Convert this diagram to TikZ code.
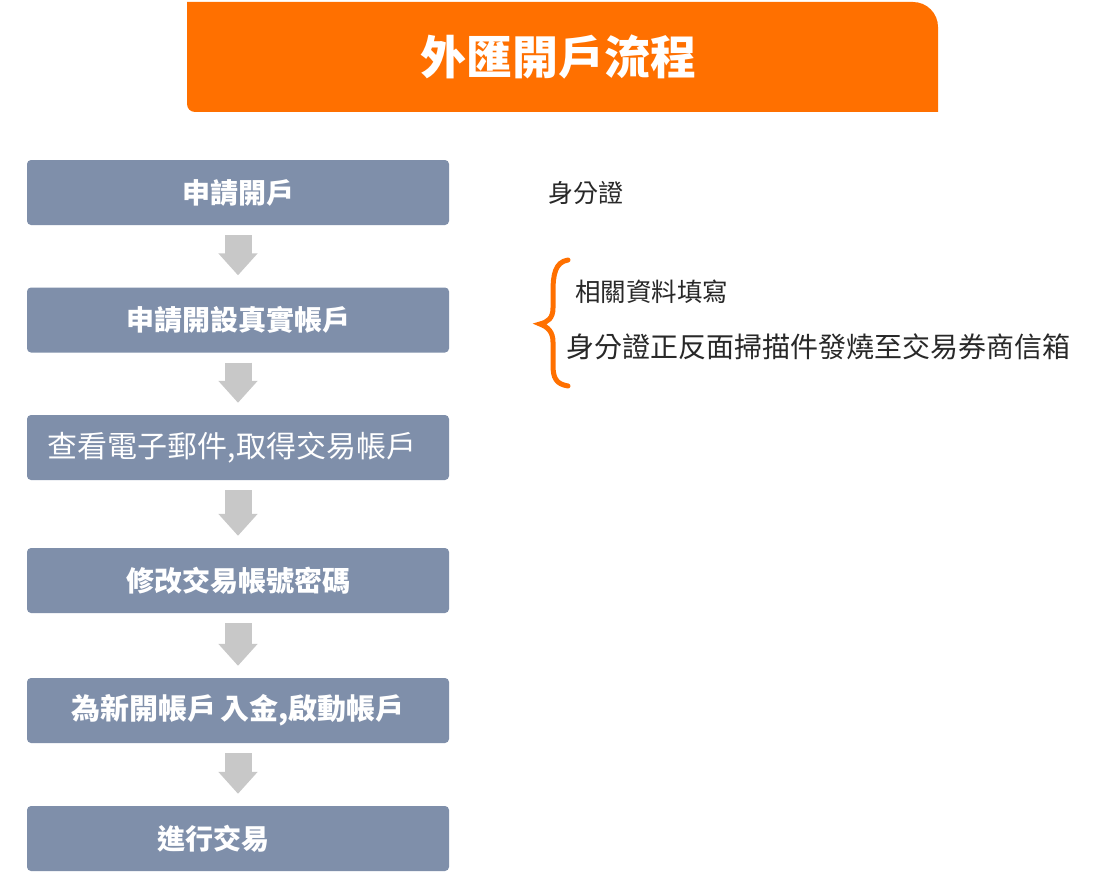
\documentclass[tikz,border=0pt]{standalone}
\usepackage{fontspec}
\newfontfamily\cjk{Noto Sans CJK TC}
\usetikzlibrary{arrows.meta,positioning}
\definecolor{titleorange}{RGB}{255,112,0}
\definecolor{boxblue}{RGB}{127,143,170}
\definecolor{arrowgray}{RGB}{200,200,200}
\definecolor{textgray}{RGB}{40,40,40}

\begin{document}
\begin{tikzpicture}[x=1pt,y=-1pt,
    stepbox/.style={fill=boxblue,rounded corners=4pt,minimum width=422pt,minimum height=65pt,inner sep=0pt,text=white,font=\cjk\bfseries\fontsize{28}{32}\selectfont},
    flowarrow/.style={arrowgray,line width=27pt,-{Triangle[width=38pt,length=22pt]},shorten <=10pt,shorten >=12pt},
    note/.style={anchor=west,inner sep=0pt,text=textgray,font=\cjk\fontsize{25}{30}\selectfont}]
                    \fill[white] (0,0) rectangle (1104,875);
                    \useasboundingbox (0,0) rectangle (1104,875);

                    \fill[titleorange] (187,2) -- (913,2) arc[start angle=-90,end angle=0,radius=25] -- (938,112) -- (195,112) arc[start angle=90,end angle=180,radius=8] -- cycle;
                    \node[text=white,font=\cjk\bfseries\fontsize{46}{52}\selectfont] (title) at (558,57) {外匯開戶流程};

                    \node[stepbox] (s1) at (238,192.5) {申請開戶};
                    \node[stepbox] (s2) at (238,320) {申請開設真實帳戶};
                    \node[stepbox,font=\cjk\fontsize{30}{34}\selectfont] (s3) at (238,447.5) {查看電子郵件,取得交易帳戶\hspace*{12pt}};
                    \node[stepbox] (s4) at (238,580.5) {修改交易帳號密碼};
                    \node[stepbox,font=\cjk\bfseries\fontsize{29}{33}\selectfont] (s5) at (238,710.5) {為新開帳戶\hspace{4pt}入金,啟動帳戶};
                    \node[stepbox] (s6) at (238,838.5) {進行交易\hspace*{50pt}};

                    \foreach \a/\b in {s1/s2,s2/s3,s3/s4,s4/s5,s5/s6}
                    {\draw[flowarrow] (\a.south) -- (\b.north);}

                    \node[note] (id) at (548,193) {身分證};
                    \node[note,font=\cjk\fontsize{25.5}{30}\selectfont] (fill) at (575,292) {相關資料填寫};
                    \node[note,font=\cjk\fontsize{28}{32}\selectfont] (scan) at (566,347) {身分證正反面掃描件發燒至交易券商信箱};

                    \draw[titleorange,line width=5pt,line cap=round] (568,260) .. controls (555,262) and (553,275) .. (553,292) -- (553,308) .. controls (553,318) and (548,322) .. (540,324) .. controls (548,327) and (553,332) .. (553,342) -- (553,365) .. controls (553,378) and (556,384) .. (568,386);
                \end{tikzpicture}
\end{document}
